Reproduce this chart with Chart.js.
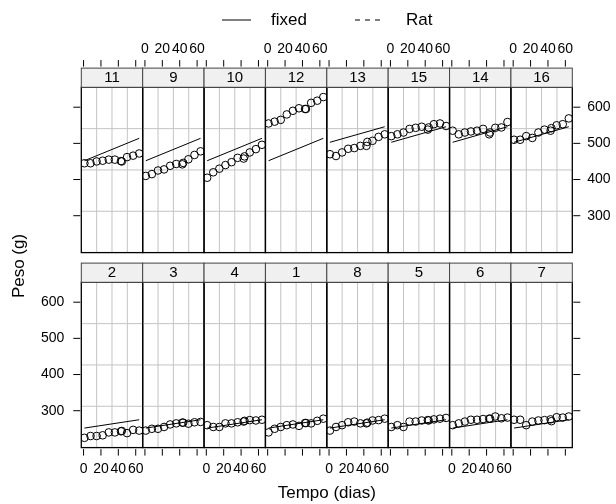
<!DOCTYPE html>
<html>
<head>
<meta charset="utf-8">
<script src="https://cdn.jsdelivr.net/npm/chart.js@4.4.1/dist/chart.umd.min.js"></script>
<style>
  body { margin: 0; background: #fff; }
  #wrap { position: relative; width: 616px; height: 504px; }
  #wrap canvas { position: absolute; left: 0; top: 0; }
</style>
</head>
<body>
<div id="wrap"></div>
<script>
// weighing days
var days = [1, 8, 15, 22, 29, 36, 43, 44, 50, 57, 64];

// body weight of each rat (g)
var rat1 = [240, 250, 255, 260, 262, 258, 266, 266, 265, 272, 278];
var rat2 = [225, 230, 230, 232, 240, 240, 243, 244, 238, 247, 245];
var rat3 = [245, 250, 250, 255, 262, 265, 267, 267, 264, 268, 269];
var rat4 = [260, 255, 255, 265, 265, 268, 270, 272, 274, 273, 275];
var rat5 = [255, 260, 255, 270, 270, 273, 274, 273, 276, 278, 280];
var rat6 = [260, 265, 270, 275, 275, 277, 278, 278, 284, 279, 281];
var rat7 = [275, 275, 260, 270, 273, 274, 276, 271, 282, 281, 284];
var rat8 = [245, 255, 260, 268, 270, 265, 265, 267, 273, 274, 278];
var rat9 = [410, 415, 425, 428, 438, 443, 442, 446, 456, 468, 478];
var rat10 = [405, 420, 430, 440, 448, 460, 458, 464, 475, 484, 496];
var rat11 = [445, 445, 450, 452, 455, 455, 451, 450, 462, 466, 472];
var rat12 = [555, 560, 565, 580, 590, 597, 595, 595, 612, 618, 628];
var rat13 = [470, 465, 475, 485, 487, 493, 493, 504, 507, 518, 525];
var rat14 = [535, 525, 530, 533, 535, 540, 525, 530, 543, 544, 559];
var rat15 = [520, 525, 530, 540, 543, 546, 538, 544, 553, 555, 548];
var rat16 = [510, 510, 520, 515, 530, 538, 535, 542, 550, 553, 569];

// diet of rats 1..16
var ratDiet = [1, 1, 1, 1, 1, 1, 1, 1, 2, 2, 2, 2, 3, 3, 3, 3];

// panel order
var topRow = [11, 9, 10, 12, 13, 15, 14, 16];
var bottomRow = [2, 3, 4, 1, 8, 5, 6, 7];

// fixed effects line per diet, at first and last day
var fixedStart = [252, 452, 503];
var fixedEnd = [275, 514, 546];

var xTicks = [0, 20, 40, 60];
var yTicks = [300, 400, 500, 600];

var weights = [rat1, rat2, rat3, rat4, rat5, rat6, rat7, rat8,
  rat9, rat10, rat11, rat12, rat13, rat14, rat15, rat16];

//layout
var FONT = "'Liberation Sans', Arial, Helvetica, sans-serif";
var panelLeft = 81.3, panelW = 61.375;
var rowTop = [87.3, 282.3], panelH = 165.3;
var stripH = 19.2;
var W = 616, H = 504;

function seg(ctx, x1, y1, x2, y2) {
  ctx.beginPath();
  ctx.moveTo(x1, y1);
  ctx.lineTo(x2, y2);
  ctx.stroke();
}

const panelDecor = {
  id: "panelDecor",
  beforeDatasetsDraw(chart, args, opts) {
    const ctx = chart.ctx, a = chart.chartArea;
    ctx.save();
    ctx.strokeStyle = "#c4c4c4";
    ctx.lineWidth = 1;
    for (let k = 1; k < 4; k++) {
      const x = a.left + (a.width * k) / 4;
      const y = a.top + (a.height * k) / 4;
      seg(ctx, x, a.top, x, a.bottom);
      seg(ctx, a.left, y, a.right, y);
    }
    ctx.restore();
  },
  afterDraw(chart, args, opts) {
    const ctx = chart.ctx, a = chart.chartArea;
    const xs = chart.scales.x, ys = chart.scales.y;
    ctx.save();
    // panel border
    ctx.strokeStyle = "#000";
    ctx.lineWidth = 1.3;
    ctx.strokeRect(a.left, a.top, a.width, a.height);
    ctx.lineWidth = 1;
    // strip
    const sTop = a.top - stripH;
    ctx.fillStyle = "#f0f0f0";
    ctx.fillRect(a.left, sTop, a.width, stripH);
    ctx.strokeStyle = "#444";
    ctx.strokeRect(a.left, sTop, a.width, stripH);
    ctx.fillStyle = "#000";
    ctx.font = "15px " + FONT;
    ctx.textAlign = "center";
    ctx.textBaseline = "middle";
    ctx.fillText(opts.label, a.left + a.width / 2, sTop + stripH / 2 + 0.5);

    // x ticks
    ctx.font = "14px " + FONT;
    ctx.strokeStyle = "#000";
    xTicks.forEach((t) => {
      const px = xs.getPixelForValue(t);
      if (opts.row == 0) {
        seg(ctx, px, sTop - 1.5, px, sTop - 8);
        if (opts.col % 2 == 1) ctx.fillText(String(t), px, 49);
      } else {
        seg(ctx, px, a.bottom + 1.5, px, a.bottom + 8);
        if (opts.col % 2 == 0) ctx.fillText(String(t), px, 469);
      }
    });

    // y ticks
    yTicks.forEach((t) => {
      const py = ys.getPixelForValue(t);
      if (opts.col == 0) {
        seg(ctx, a.left - 1, py, a.left - 8, py);
        if (opts.row == 1) {
          ctx.textAlign = "right";
          ctx.fillText(String(t), a.left - 17, py);
        }
      }
      if (opts.col == 7) {
        seg(ctx, a.right + 1, py, a.right + 8, py);
        if (opts.row == 0) {
          ctx.textAlign = "left";
          ctx.fillText(String(t), a.right + 15, py);
        }
      }
    });

    // legend and axis titles once
    if (opts.first) {
      ctx.font = "17px " + FONT;
      ctx.textAlign = "left";
      seg(ctx, 222, 20, 251, 20);
      ctx.fillText("fixed", 271, 20);
      ctx.setLineDash([5, 5]);
      seg(ctx, 355, 20, 384, 20);
      ctx.setLineDash([]);
      ctx.fillText("Rat", 406, 20);

      ctx.textAlign = "center";
      ctx.fillText("Tempo (dias)", panelLeft + panelW * 4, 493);
      ctx.translate(19, 266);
      ctx.rotate(-Math.PI / 2);
      ctx.fillText("Peso (g)", 0, 0);
    }
    ctx.restore();
  },
};

var wrap = document.getElementById("wrap");
var rows = [topRow, bottomRow];
var first = true;
rows.forEach((row, r) => {
  row.forEach((rat, c) => {
    const cv = document.createElement("canvas");
    cv.width = W;
    cv.height = H;
    wrap.appendChild(cv);

    const left = panelLeft + c * panelW;
    const top = rowTop[r];
    const diet = ratDiet[rat - 1];
    const pts = days.map((d, i) => ({ x: d, y: weights[rat - 1][i] }));
    const fixedLine = [
      { x: days[0], y: fixedStart[diet - 1] },
      { x: days[days.length - 1], y: fixedEnd[diet - 1] },
    ];

    new Chart(cv, {
      type: "scatter",
      data: {
        datasets: [
          {
            label: "fixed",
            data: fixedLine,
            showLine: true,
            borderColor: "#000",
            borderWidth: 1,
            pointRadius: 0,
          },
          {
            label: "Rat " + rat,
            data: pts,
            pointRadius: 3.8,
            borderWidth: 1,
            borderColor: "#000",
            backgroundColor: "rgba(0,0,0,0)",
          },
        ],
      },
      options: {
        responsive: false,
        animation: false,
        events: [],
        layout: {
          padding: {
            left: left,
            top: top,
            right: W - (left + panelW),
            bottom: H - (top + panelH),
          },
        },
        scales: {
          x: { type: "linear", min: -2.6, max: 68, display: false },
          y: { type: "linear", min: 198, max: 655, display: false },
        },
        plugins: {
          legend: { display: false },
          tooltip: { enabled: false },
          panelDecor: { label: String(rat), row: r, col: c, first: first },
        },
      },
      plugins: [panelDecor],
    });
    first = false;
  });
});
</script>
</body>
</html>
